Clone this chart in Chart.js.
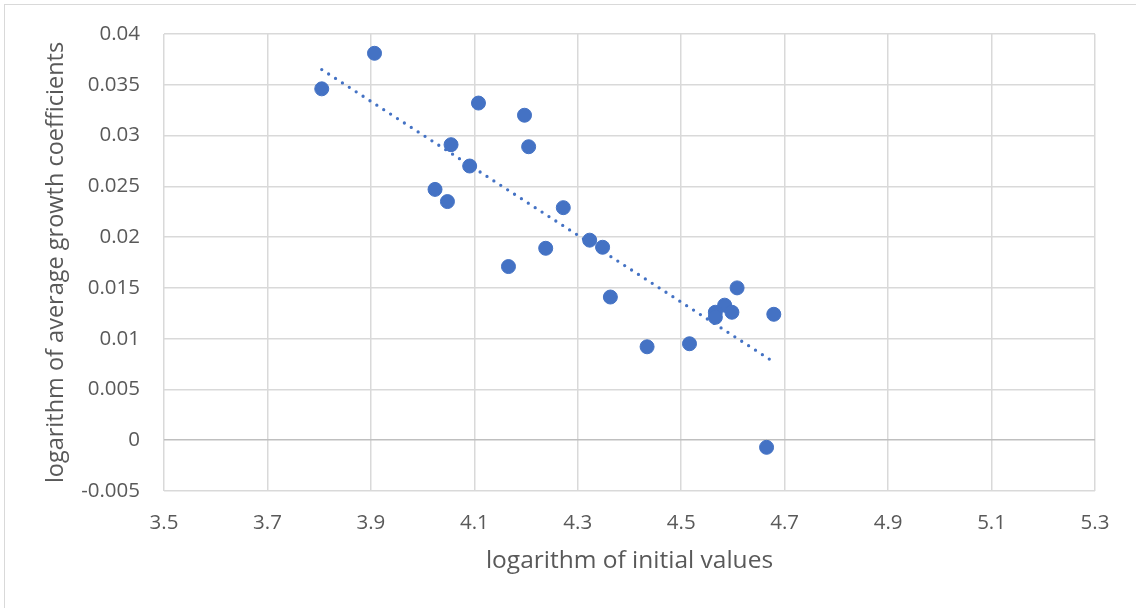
<!DOCTYPE html>
<html>
<head>
<meta charset="utf-8">
<script src="https://cdn.jsdelivr.net/npm/chart.js@4"></script>
<style>
  html, body { margin: 0; padding: 0; background: #fff; overflow: hidden; }
  #wrap { position: relative; width: 1136px; height: 608px; }
  #frame { position: absolute; left: 4px; top: 4px; width: 1200px; height: 700px; border: 1.5px solid #d9d9d9; }
  #chart { position: absolute; left: 0; top: 0; }
</style>
</head>
<body>
<div id="wrap">
  <div id="frame"></div>
  <canvas id="chart" width="1136" height="608"></canvas>
</div>
<script>
// scatter points
const initialLog = [3.805, 3.907, 4.108, 4.197, 4.055, 4.205, 4.091, 4.024, 4.048, 4.272, 4.323, 4.238,
                    4.166, 4.348, 4.363, 4.434, 4.516, 4.608, 4.584, 4.566, 4.566, 4.598, 4.679, 4.665];
const growthLog = [0.0346, 0.0381, 0.0332, 0.0320, 0.0291, 0.0289, 0.0270, 0.0247, 0.0235, 0.0229, 0.0197, 0.0189,
                   0.0171, 0.0190, 0.0141, 0.0092, 0.0095, 0.0150, 0.0133, 0.0126, 0.0121, 0.0126, 0.0124, -0.0007];

// linear trendline end points
const trendX = [3.805, 4.679];
const trendY = [0.0365, 0.0077];

const xTitle = "logarithm of initial values";
const yTitle = "logarithm of average growth coefficients";

const blue = "#4472C4";
const textColor = "#595959";
const gridColor = "#d9d9d9";

const points = initialLog.map((x, i) => ({ x: x, y: growthLog[i] }));
const trend = trendX.map((x, i) => ({ x: x, y: trendY[i] }));

new Chart(document.getElementById("chart"), {
  type: "scatter",
  data: {
    datasets: [
      {
        label: "data",
        data: points,
        backgroundColor: blue,
        borderColor: blue,
        borderWidth: 1,
        pointRadius: 7,
        pointHoverRadius: 7
      },
      {
        label: "trend",
        type: "line",
        data: trend,
        showLine: true,
        borderColor: blue,
        borderWidth: 3.3,
        borderDash: [0, 8.2],
        borderCapStyle: "round",
        pointRadius: 0,
        fill: false
      }
    ]
  },
  options: {
    responsive: false,
    animation: false,
    devicePixelRatio: 1,
    layout: { padding: { left: 0, top: 34, right: 41, bottom: 0 } },
    plugins: { legend: { display: false }, tooltip: { enabled: false } },
    scales: {
      x: {
        type: "linear",
        min: 3.5,
        max: 5.3,
        ticks: {
          stepSize: 0.2,
          color: textColor,
          font: { family: "Open Sans", size: 20.5 },
          padding: 20,
          maxRotation: 0,
          callback: (v) => v.toFixed(1)
        },
        grid: { color: gridColor, lineWidth: 1.5, drawTicks: false },
        border: { display: false },
        title: {
          display: true,
          text: xTitle,
          color: textColor,
          font: { family: "Open Sans", size: 24.5 },
          padding: { top: 0, bottom: 32.7 }
        },
        afterFit: (s) => { s.height = 117; }
      },
      y: {
        type: "linear",
        min: -0.005,
        max: 0.04,
        ticks: {
          stepSize: 0.005,
          color: textColor,
          font: { family: "Open Sans", size: 20.5, lineHeight: 0.9 },
          padding: 24,
          callback: (v) => String(Number(v.toFixed(3)))
        },
        grid: {
          color: (c) => (c.tick && Math.abs(c.tick.value) < 1e-9 ? "#bfbfbf" : gridColor),
          lineWidth: 1.5,
          drawTicks: false
        },
        border: { display: false },
        title: {
          display: true,
          text: yTitle,
          color: textColor,
          font: { family: "Open Sans", size: 23.5 },
          padding: { top: 42.4, bottom: 0 }
        },
        afterFit: (s) => { s.width = 164; }
      }
    }
  }
});
</script>
</body>
</html>
